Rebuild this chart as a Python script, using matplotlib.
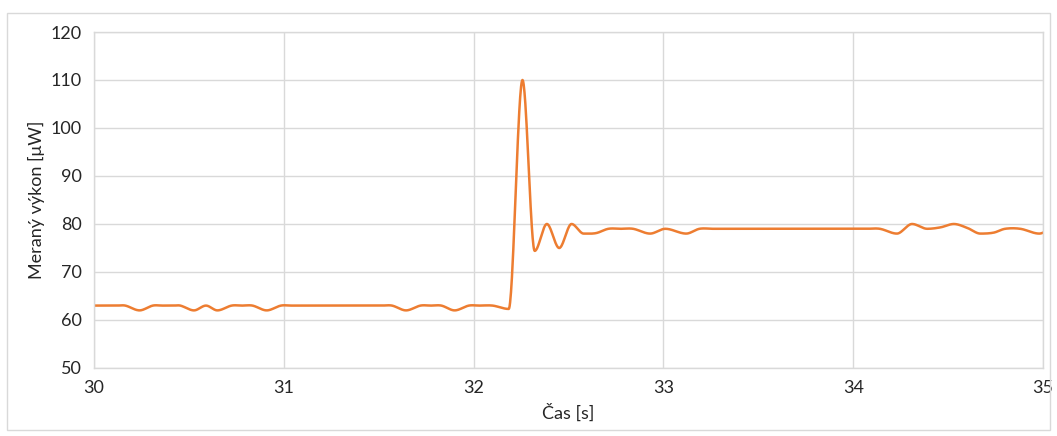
import matplotlib.pyplot as plt
import numpy as np
from matplotlib.patches import Rectangle

plt.rcParams['font.family'] = ['Lato', 'DejaVu Sans']

cas = [29.94, 30.00, 30.06, 30.12, 30.165, 30.24, 30.31, 30.36, 30.42, 30.455,
       30.527, 30.59, 30.65, 30.725, 30.78, 30.835, 30.91, 30.985, 31.04,
       31.515, 31.57, 31.644, 31.72, 31.775, 31.83, 31.90, 31.975, 32.03, 32.10,
       32.185, 32.2575, 32.322, 32.386, 32.451, 32.516, 32.58, 32.645, 32.71,
       32.775, 32.84, 32.93, 33.01, 33.12, 33.19, 33.26,
       34.07, 34.14, 34.23, 34.31, 34.39, 34.46, 34.53, 34.60, 34.67, 34.74,
       34.80, 34.88, 34.98, 35.05]
vykon = [63, 63, 63, 63, 63, 62, 63, 63, 63, 63,
         62, 63, 62, 63, 63, 63, 62, 63, 63,
         63, 63, 62, 63, 63, 63, 62, 63, 63, 63,
         62.3, 110, 74.4, 80, 75, 80, 78, 78.1, 79,
         79, 79, 78, 79, 78, 79, 79,
         79, 79, 78, 80, 79, 79.3, 80, 79.2, 78, 78.2,
         79, 79, 78, 79]

x_ticks = [30, 31, 32, 33, 34, 35]
y_ticks = [50, 60, 70, 80, 90, 100, 110, 120]


def smooth(x, y, n=30):
    # cubic Hermite through the points, like a spreadsheet "smoothed line"
    x = np.asarray(x, float)
    y = np.asarray(y, float)
    m = np.zeros_like(y)
    m[1:-1] = (y[2:] - y[:-2]) / (x[2:] - x[:-2])
    # flat tangent at local peaks and troughs
    d = np.diff(y)
    ext = d[:-1] * d[1:] < 0
    m[1:-1][ext] = 0
    xs, ys = [], []
    for i in range(len(x) - 1):
        h = x[i + 1] - x[i]
        s = np.linspace(0, 1, n, endpoint=False)
        h00 = 2 * s**3 - 3 * s**2 + 1
        h10 = s**3 - 2 * s**2 + s
        h01 = -2 * s**3 + 3 * s**2
        h11 = s**3 - s**2
        xs.append(x[i] + s * h)
        ys.append(h00 * y[i] + h10 * h * m[i] + h01 * y[i + 1] + h11 * h * m[i + 1])
    xs.append([x[-1]])
    ys.append([y[-1]])
    return np.concatenate(xs), np.concatenate(ys)


fig = plt.figure(figsize=(10.57, 4.36), dpi=100)
ax = fig.add_axes([0.0889, 0.156, 0.8979, 0.7706])

fig.patches.append(Rectangle((7 / 1057, 6 / 436), 1043 / 1057, 417 / 436,
                             transform=fig.transFigure, fill=False,
                             edgecolor='#D9D9D9', linewidth=1))

xs, ys = smooth(cas, vykon)
ax.plot(xs, ys, color='#ED7D31', linewidth=1.8, solid_capstyle='round')

ax.set_xlim(30, 35)
ax.set_ylim(50, 120)
ax.set_xticks(x_ticks)
ax.set_yticks(y_ticks)
ax.grid(True, color='#D9D9D9', linewidth=1)
ax.set_axisbelow(True)
for s in ax.spines.values():
    s.set_color('#D9D9D9')
    s.set_linewidth(1)
ax.tick_params(length=0, labelsize=13, labelcolor='#262626', pad=9)
ax.set_xlabel('Čas [s]', fontsize=13, color='#262626', labelpad=5)
ax.set_ylabel('Meraný výkon [μW]', fontsize=13, color='#262626', labelpad=4)

fig.savefig('out.png', dpi=100)
